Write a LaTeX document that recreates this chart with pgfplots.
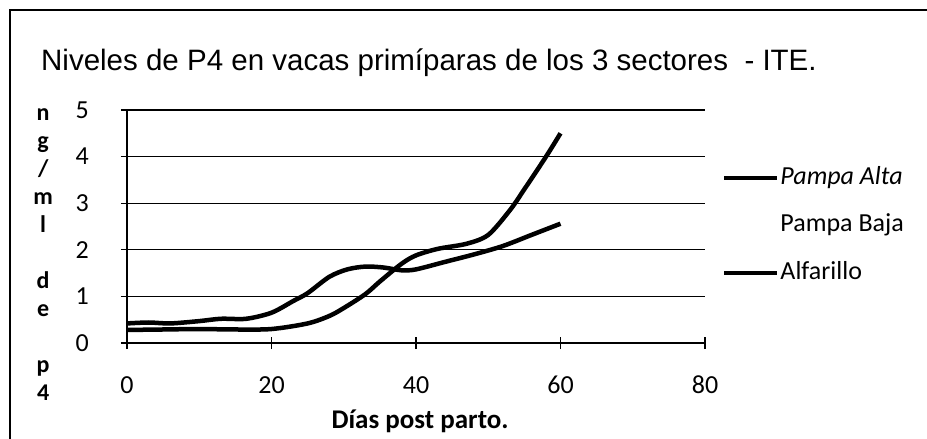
\documentclass[border=0pt]{standalone}
\usepackage{fontspec}
\setmainfont{Liberation Sans}
\newfontfamily\carlito{Carlito}
\usepackage{pgfplots}
\pgfplotsset{compat=1.18}
\begin{document}
\begin{tikzpicture}[x=1pt,y=1pt]
\useasboundingbox (0,0) rectangle (927,-439);
\draw[line width=1.2pt] (10,-439) -- (10,-10) -- (927,-10);
\node[anchor=base west, inner sep=0pt, font=\fontsize{29.5}{32}\selectfont] at (41,-70) {Niveles de P4 en vacas primíparas de los 3 sectores\ \ - ITE.};
\begin{axis}[
  at={(127pt,-343pt)}, anchor=south west,
  scale only axis, width=578pt, height=233pt,
  xmin=0, xmax=80, ymin=0, ymax=5,
  xtick={0,20,40,60,80}, ytick={0,1,2,3,4,5},
  axis x line*=bottom, axis y line*=left,
  axis line style={-, black, line width=1.2pt},
  ymajorgrids, grid style={black, line width=1.2pt},
  tick style={black, line width=1.2pt},
  major tick length=12pt, tick align=center,
  /pgf/number format/assume math mode=true,
  ticklabel style={font=\carlito\fontsize{26}{30}\selectfont},
  xticklabel style={anchor=north, inner sep=0pt},
  xticklabel shift={27pt},
  yticklabel style={anchor=east, inner sep=0pt},
  yticklabel shift={32pt},
  xlabel={Días post parto.},
  every axis x label/.style={at={(rel axis cs:0.507,0)}, anchor=center, yshift=-78pt, font=\carlito\bfseries\fontsize{27}{30}\selectfont},
  ylabel={n\\g\\/\\m\\l\\\mbox{}\\d\\e\\\mbox{}\\p\\4},
  every axis y label/.style={at={(rel axis cs:-0.145,0.378)}, anchor=center, align=center, font=\carlito\bfseries\fontsize{24}{28}\selectfont},
  legend style={at={(rel axis cs:1.029,0.76)}, anchor=north west, draw=none, fill=none,
    inner sep=0pt, row sep=23.5pt,
    nodes={inner xsep=1pt, inner ysep=0pt, text height=18pt, text depth=6pt},
    font=\carlito\fontsize{26}{30}\selectfont},
  legend cell align=left,
  legend image code/.code={\draw[#1, line width=4.5pt] (0pt,0pt) -- (53pt,0pt);},
]
\addplot[black, line width=4.5pt, smooth] coordinates {
(0,0.42) (3,0.44) (6,0.42) (10,0.47) (13,0.52) (16.5,0.52) (20,0.65) (23,0.9)
(25,1.07) (28,1.42) (30.5,1.58) (33,1.64) (35.5,1.62) (38,1.56) (40,1.58)
(44,1.74) (48,1.9) (52,2.08) (56,2.32) (60,2.56)};
\addlegendentry{\itshape Pampa Alta}
\addlegendimage{white}
\addlegendentry{Pampa Baja}
\addplot[black, line width=4.5pt, smooth] coordinates {
(0,0.28) (5,0.29) (10,0.30) (15,0.29) (20,0.30) (25,0.42) (28,0.58) (30,0.75)
(33,1.05) (35,1.32) (38,1.70) (40,1.88) (43,2.02) (47,2.13) (50,2.32)
(53,2.85) (55,3.3) (58,4.0) (60,4.5)};
\addlegendentry{Alfarillo}
\end{axis}
\end{tikzpicture}
\end{document}
